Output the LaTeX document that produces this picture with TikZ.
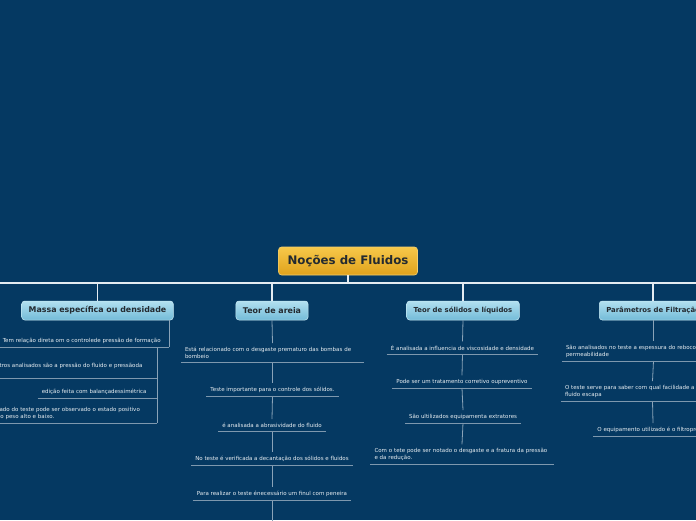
\documentclass[tikz,border=0pt]{standalone}
\usepackage{fontspec}
\setmainfont{DejaVu Sans}
\definecolor{nfbg}{HTML}{053962}
\definecolor{nftrunk}{HTML}{E4ECF2}
\definecolor{nfstem}{HTML}{8AA3B8}
\definecolor{nfrule}{HTML}{7E98AE}
\definecolor{nfleaf}{HTML}{E8EEF2}
\definecolor{nfink}{HTML}{232A30}
\definecolor{nfrootlight}{HTML}{F7C84A}
\definecolor{nfrootdark}{HTML}{DFA21C}
\definecolor{nfrootedge}{HTML}{F3CF6E}
\definecolor{nfbranchlight}{HTML}{B2E0F0}
\definecolor{nfbranchdark}{HTML}{73BBD8}
\definecolor{nfbranchedge}{HTML}{C8EAF5}
\tikzset{
  nf root/.style={draw=nfrootedge, line width=0.6pt, rounded corners=3pt,
    top color=nfrootlight, bottom color=nfrootdark, text=nfink,
    font=\bfseries\fontsize{11.8}{13}\selectfont, minimum height=28pt, inner xsep=9pt},
  nf branch/.style={draw=nfbranchedge, line width=0.5pt, rounded corners=3pt,
    top color=nfbranchlight, bottom color=nfbranchdark, text=nfink,
    font=\bfseries\fontsize{7.9}{9}\selectfont, minimum height=19pt, inner xsep=7pt},
  nf small/.style={font=\bfseries\fontsize{6.9}{8}\selectfont},
  nf leaf/.style={font=\fontsize{5.5}{7}\selectfont, text=nfleaf, align=left,
    inner xsep=4pt, inner ysep=3.5pt, anchor=south},
  nf wide/.style={nf leaf, text width=175pt},
  nf trunk/.style={draw=nftrunk, line width=1.4pt},
  nf stem/.style={draw=nfstem, line width=0.8pt},
  nf rule/.style={draw=nfrule, line width=0.8pt}
}
\begin{document}
\begin{tikzpicture}[x=1pt, y=-1pt]
  \useasboundingbox (0,0) rectangle (696,520);
  \clip (0,0) rectangle (696,520);
  \fill[nfbg] (0,0) rectangle (696,520);

  % centre and rail
  \node[nf root] (root) at (348,261) {Noções de Fluidos};
  \coordinate (rail west) at (0,283);
  \coordinate (rail east) at (696,283);

  % branches
  \node[nf branch] (mass) at (97.5,310.5) {Massa específica ou densidade};
  \node[nf branch] (sand) at (272,310.5) {Teor de areia};
  \node[nf branch, nf small] (solid) at (463,310.5) {Teor de sólidos e líquidos};
  \node[nf branch, nf small, anchor=west] (filt) at (599,310.5) {Parâmetros de Filtração};

  \draw[nf trunk] (rail west) -- (rail east);
  \draw[nf trunk] (root.south) -- (root.south |- rail west);
  \foreach \b/\x in {mass/97.5,sand/272,solid/463,filt/653}
    \draw[nf trunk] (\x,0 |- \b.north) -- (\x,0 |- rail west);

  % massa especifica
  \node[nf wide, text width=162pt, anchor=south east] (m1) at (169,347)
    {Tem relação direta om o controlede pressão de formação};
  \node[nf wide, text width=161pt, anchor=south east] (m2) at (157,378)
    {Outros analisados são a pressão do fluido e pressãoda\\\mbox{}};
  \node[nf wide, text width=111pt, anchor=south east] (m3) at (157,398)
    {edição feita com balançadessimétrica};
  \node[nf wide, anchor=south east] (m4) at (157,423)
    {O resultado do teste pode ser observado o estado positivo\\quando o peso alto e baixo.};
  \draw[nf stem] (m1.south east |- mass.south) -- (m1.south east);
  \draw[nf stem] (m2.south east |- m1.south) -- (m4.south east);

  % teor de areia
  \node[nf wide] (a1) at (272.5,362)
    {Está relacionado com o desgaste prematuro das bombas de\\bombeio};
  \node[nf leaf] (a2) at (272.5,396) {Teste importante para o controle dos sólidos.};
  \node[nf leaf] (a3) at (272,431) {é analisada a abrasividade do fluido};
  \node[nf leaf] (a4) at (272,465) {No teste é verificada a decantação dos sólidos e fluidos};
  \node[nf leaf] (a5) at (272,500) {Para realizar o teste énecessário um finul com peneira};
  \coordinate (a end) at (272,525);
  \foreach \u/\v in {sand/a1,a1/a2,a2/a3,a3/a4,a4/a5}
    \draw[nf stem] (\u.south) -- (\v.north);
  \draw[nf stem] (a5.south) -- (a end);

  % teor de solidos
  \node[nf leaf] (s1) at (462.5,354) {É analisada a influencia de viscosidade e densidade};
  \node[nf leaf] (s2) at (462,388) {Pode ser um tratamento corretivo oupreventivo};
  \node[nf leaf] (s3) at (463,423) {São ultilizados equipamenta extratores};
  \node[nf wide] (s4) at (462,464)
    {Com o tete pode ser notado o desgaste e a fratura da pressão\\e da redução.};
  \foreach \u/\v in {solid/s1,s1/s2,s2/s3,s3/s4}
    \draw[nf stem] (\u.south) -- (\v.north);

  % parametros de filtracao
  \node[nf wide] (f1) at (653.5,361)
    {São analisados no teste a espessura do reboco e a\\permeabilidade};
  \node[nf wide] (f2) at (652.5,401)
    {O teste serve para saber com qual facilidade a água do\\fluido escapa};
  \node[nf leaf] (f3) at (653,436) {O equipamento utilizado é o filtroprensa};
  \draw[nf stem] (653,0 |- filt.south) -- (653,0 |- f1.north);
  \foreach \u/\v in {f1/f2,f2/f3}
    \draw[nf stem] (\u.south) -- (\v.north);

  % underlines
  \foreach \n in {m1,m2,m3,m4,a1,a2,a3,a4,a5,s1,s2,s3,s4,f1,f2,f3}
    \draw[nf rule] (\n.south west) -- (\n.south east);
\end{tikzpicture}
\end{document}
